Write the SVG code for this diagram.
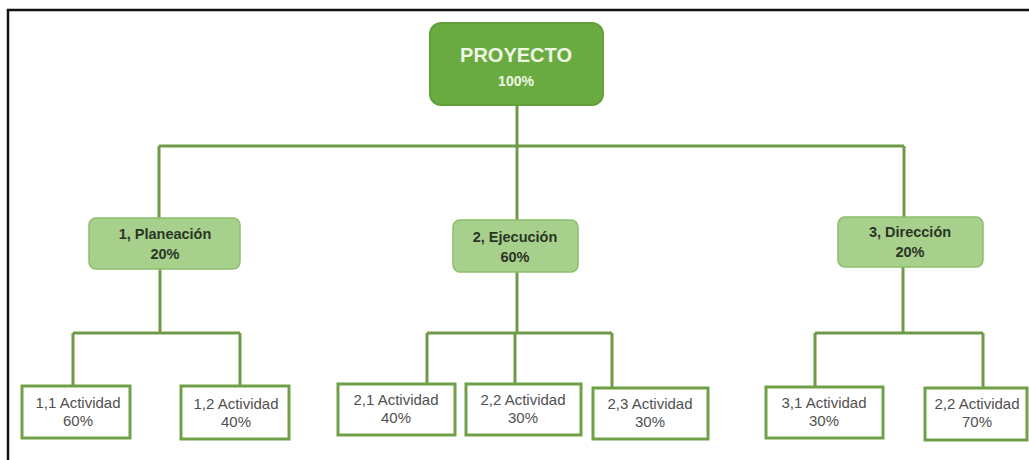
<svg xmlns="http://www.w3.org/2000/svg" width="1029" height="460" viewBox="0 0 1029 460">
<style>
.top{fill:#6aab41;stroke:#62a03a;stroke-width:2}
.mid{fill:#a8d08d;stroke:#8dbd6e;stroke-width:1.5}
.leaf{fill:#ffffff;stroke:#70a046;stroke-width:3}
.conn{fill:none;stroke:#6f9a48;stroke-width:3}
.t1{font-family:"Liberation Sans",Arial,sans-serif;font-weight:bold;fill:#eef6e4;text-anchor:middle}
.t2{font-family:"Liberation Sans",Arial,sans-serif;font-weight:bold;font-size:14.5px;fill:#2b3524;text-anchor:middle}
.t3{font-family:"Liberation Sans",Arial,sans-serif;font-size:15px;fill:#505050;text-anchor:middle}
</style>
<rect x="0" y="0" width="1029" height="460" fill="#ffffff"/>
<path d="M8 460 V10 H1029" fill="none" stroke="#111" stroke-width="2.5"/>
<g id="connectors">
<path class="conn" d="M517 105 V146 M159 146 H904 M159 146 V218 M517 146 V220 M904 146 V217"/>
<path class="conn" d="M160 269 V333 M73 333 H240 M73 333 V386 M240 333 V386"/>
<path class="conn" d="M517 272 V333 M427 333 H612 M427 333 V384 M515 333 V384 M612 333 V388"/>
<path class="conn" d="M903 267 V333 M815 333 H983 M815 333 V387 M983 333 V388"/>
</g>
<g id="proyecto">
<rect class="top" x="430" y="23" width="173" height="82" rx="11"/>
<text class="t1" x="516" y="62" font-size="20">PROYECTO</text>
<text class="t1" x="516" y="86" font-size="14">100%</text>
</g>
<g id="planeacion">
<rect class="mid" x="89" y="218" width="151" height="51" rx="7"/>
<text class="t2" x="165" y="239">1, Planeación</text>
<text class="t2" x="165" y="259">20%</text>
</g>
<g id="ejecucion">
<rect class="mid" x="453" y="220" width="125" height="52" rx="7"/>
<text class="t2" x="515" y="242">2, Ejecución</text>
<text class="t2" x="515" y="262">60%</text>
</g>
<g id="direccion">
<rect class="mid" x="838" y="217" width="145" height="50" rx="7"/>
<text class="t2" x="910" y="237">3, Dirección</text>
<text class="t2" x="910" y="257">20%</text>
</g>
<g id="a11">
<rect class="leaf" x="22" y="386" width="108" height="52"/>
<text class="t3" x="78" y="408">1,1 Actividad</text>
<text class="t3" x="78" y="426">60%</text>
</g>
<g id="a12">
<rect class="leaf" x="181" y="386" width="108" height="53"/>
<text class="t3" x="236" y="409">1,2 Actividad</text>
<text class="t3" x="236" y="427">40%</text>
</g>
<g id="a21">
<rect class="leaf" x="338" y="384" width="117" height="51"/>
<text class="t3" x="396" y="405">2,1 Actividad</text>
<text class="t3" x="396" y="423">40%</text>
</g>
<g id="a22">
<rect class="leaf" x="466" y="384" width="115" height="51"/>
<text class="t3" x="523" y="405">2,2 Actividad</text>
<text class="t3" x="523" y="423">30%</text>
</g>
<g id="a23">
<rect class="leaf" x="593" y="388" width="115" height="51"/>
<text class="t3" x="650" y="409">2,3 Actividad</text>
<text class="t3" x="650" y="427">30%</text>
</g>
<g id="a31">
<rect class="leaf" x="766" y="387" width="117" height="51"/>
<text class="t3" x="824" y="408">3,1 Actividad</text>
<text class="t3" x="824" y="426">30%</text>
</g>
<g id="a32">
<rect class="leaf" x="925" y="388" width="102" height="52"/>
<text class="t3" x="977" y="409">2,2 Actividad</text>
<text class="t3" x="977" y="427">70%</text>
</g>
</svg>
